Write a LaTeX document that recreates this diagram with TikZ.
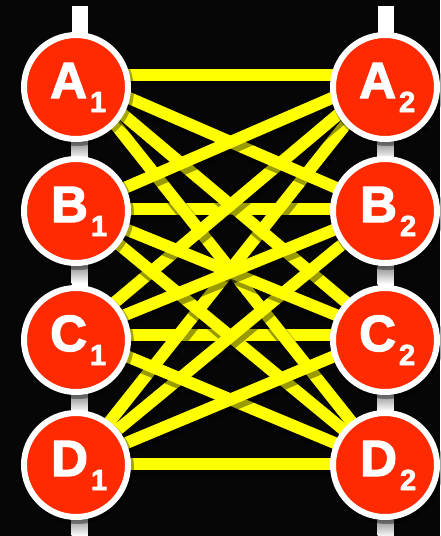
\documentclass[tikz,border=0pt]{standalone}
\usepackage{fontspec}
\setmainfont{Liberation Sans}
\newfontfamily\lblfont[UprightFont={* Bold},FakeBold=2.5]{Liberation Sans}
\definecolor{nodered}{RGB}{255,42,0}
\definecolor{ylw}{RGB}{255,255,0}
\definecolor{bg}{RGB}{6,6,6}
\begin{document}
\begin{tikzpicture}[x=1pt,y=-1pt,
  conn/.style={draw=ylw,line width=12pt},
  connshadow/.style={draw=black,opacity=0.4,line width=15pt},
  station/.style={circle,fill=nodered,draw=white,line width=6pt,minimum size=104pt,inner sep=0pt},
  stshadow/.style={circle,fill=black,opacity=0.35,minimum size=112pt,inner sep=0pt},
  lbl/.style={text=white,font=\lblfont,inner sep=0pt,anchor=base west},
  railshade/.style={top color=black!45,bottom color=white}]
\fill[bg] (0,0) rectangle (440,536);
\useasboundingbox (0,0) rectangle (440,536);
% rails
\fill[white] (71.5,6) rectangle (87.5,536);
\fill[white] (377.5,6) rectangle (393.5,536);
\foreach \y in {141,265,394} {
  \shade[railshade] (71.5,\y) rectangle (87.5,\y+18);
}
\foreach \y in {141,266,393,519} {
  \shade[railshade] (377.5,\y) rectangle (393.5,\y+18);
}
\shade[railshade] (71.5,517) rectangle (87.5,536);
% connector end points
\coordinate (pa1) at (76,75);
\coordinate (pb1) at (76,209);
\coordinate (pc1) at (76,335);
\coordinate (pd1) at (76,464);
\coordinate (pa2) at (385,75);
\coordinate (pb2) at (385,209);
\coordinate (pc2) at (385,335);
\coordinate (pd2) at (385,464);
% connectors
\foreach \i/\j in {a/a,b/b,c/c,d/d,a/d,d/a,a/c,c/a,b/d,d/b,a/b,b/a,c/d,d/c,b/c,c/b} {
  \draw[connshadow] ([shift={(2,4)}]p\i1) -- ([shift={(2,4)}]p\j2);
  \draw[conn] (p\i1) -- (p\j2);
}
% stations
\foreach \n/\x/\y in {sa1/76/87,sb1/76/211,sc1/76/340,sd1/76/465,sa2/385/87,sb2/385/211,sc2/385/340,sd2/385/465} {
  \node[stshadow] (\n) at (\x+2,\y+3) {};
}
\node[station] (a1) at (76,87) {};
\node[station] (b1) at (76,211) {};
\node[station] (c1) at (76,340) {};
\node[station] (d1) at (76,465) {};
\node[station] (a2) at (385,87) {};
\node[station] (b2) at (385,211) {};
\node[station] (c2) at (385,340) {};
\node[station] (d2) at (385,465) {};
\newcommand{\stlabel}[2]{{\fontsize{51}{51}\selectfont #1}\kern3pt{\fontsize{29}{29}\selectfont\raisebox{-14pt}{#2}}}
\node[lbl] (ta1) at (50,98) {\stlabel{A}{1}};
\node[lbl] (tb1) at (51,222) {\stlabel{B}{1}};
\node[lbl] (tc1) at (50,351) {\stlabel{C}{1}};
\node[lbl] (td1) at (51,476) {\stlabel{D}{1}};
\node[lbl] (ta2) at (359,98) {\stlabel{A}{2}};
\node[lbl] (tb2) at (360,222) {\stlabel{B}{2}};
\node[lbl] (tc2) at (359,351) {\stlabel{C}{2}};
\node[lbl] (td2) at (360,476) {\stlabel{D}{2}};
\end{tikzpicture}
\end{document}
